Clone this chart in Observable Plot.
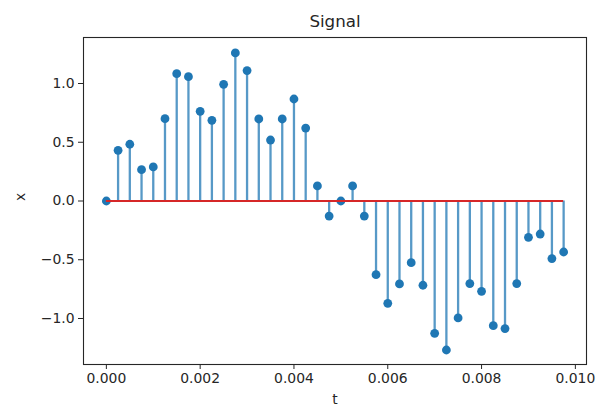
<!DOCTYPE html>
<html>
<head>
<meta charset="utf-8">
<script src="https://cdn.jsdelivr.net/npm/d3@7"></script>
<script src="https://cdn.jsdelivr.net/npm/@observablehq/plot@0.6"></script>
<style>
  html, body { margin: 0; padding: 0; background: #fff; }
  #chart svg { display: block; }
</style>
</head>
<body>
<div id="chart"></div>
<script>
const titleText = "Signal";
const xLabel = "t";
const yLabel = "x";
const tStep = 0.00025;
const signal = [
  0, 0.431, 0.483, 0.267, 0.290, 0.701, 1.084, 1.058, 0.763, 0.687,
  0.993, 1.260, 1.110, 0.698, 0.519, 0.698, 0.868, 0.621, 0.128, -0.128,
  0, 0.128, -0.128, -0.627, -0.871, -0.706, -0.525, -0.717, -1.126, -1.268,
  -0.995, -0.703, -0.769, -1.061, -1.086, -0.703, -0.309, -0.281, -0.490, -0.434
];
const tValues = signal.map((_, i) => +(i * tStep).toFixed(5));
const xTicks = [0, 0.002, 0.004, 0.006, 0.008, 0.010];
const yTicks = [-1.0, -0.5, 0.0, 0.5, 1.0];
const xDomain = [-0.0004875, 0.0102375];
const yDomain = [-1.3915, 1.3915];

const data = signal.map((v, i) => ({t: tValues[i], v}));

const font = "DejaVu Sans, sans-serif";
const ink = "#262626";

const chart = Plot.plot({
  width: 607,
  height: 406,
  marginLeft: 83,
  marginRight: 21,
  marginTop: 37,
  marginBottom: 42,
  style: {fontFamily: font, fontSize: "13.9px", color: ink, background: "#fff"},
  x: {domain: xDomain},
  y: {domain: yDomain},
  marks: [
    Plot.ruleX(data, {x: "t", y1: 0, y2: "v", stroke: "#1f77b4", strokeWidth: 2.3, strokeOpacity: 0.75}),
    Plot.dot(data, {x: "t", y: "v", r: 4.4, fill: "#1f77b4", stroke: "none"}),
    Plot.ruleY([0], {x1: tValues[0], x2: tValues[tValues.length - 1], stroke: "#d62728", strokeWidth: 2.1}),
    Plot.frame({stroke: ink, strokeWidth: 1.1}),
    Plot.axisX({ticks: xTicks, tickFormat: d3.format(".3f"), tickSize: 5, tickPadding: 4, label: null, stroke: ink, fill: ink}),
    Plot.axisY({ticks: yTicks, tickFormat: d3.format(".1f"), tickSize: 5, tickPadding: 4, label: null, stroke: ink, fill: ink}),
    Plot.text([titleText], {frameAnchor: "top", dy: -16, fontSize: 16.7, fill: ink, lineAnchor: "middle"}),
    Plot.text([xLabel], {frameAnchor: "bottom", dy: 35, fontSize: 13.9, fill: ink, lineAnchor: "middle"}),
    Plot.text([yLabel], {frameAnchor: "left", dx: -63, rotate: -90, fontSize: 13.9, fill: ink, lineAnchor: "middle"})
  ]
});
document.getElementById("chart").appendChild(chart);
</script>
</body>
</html>
